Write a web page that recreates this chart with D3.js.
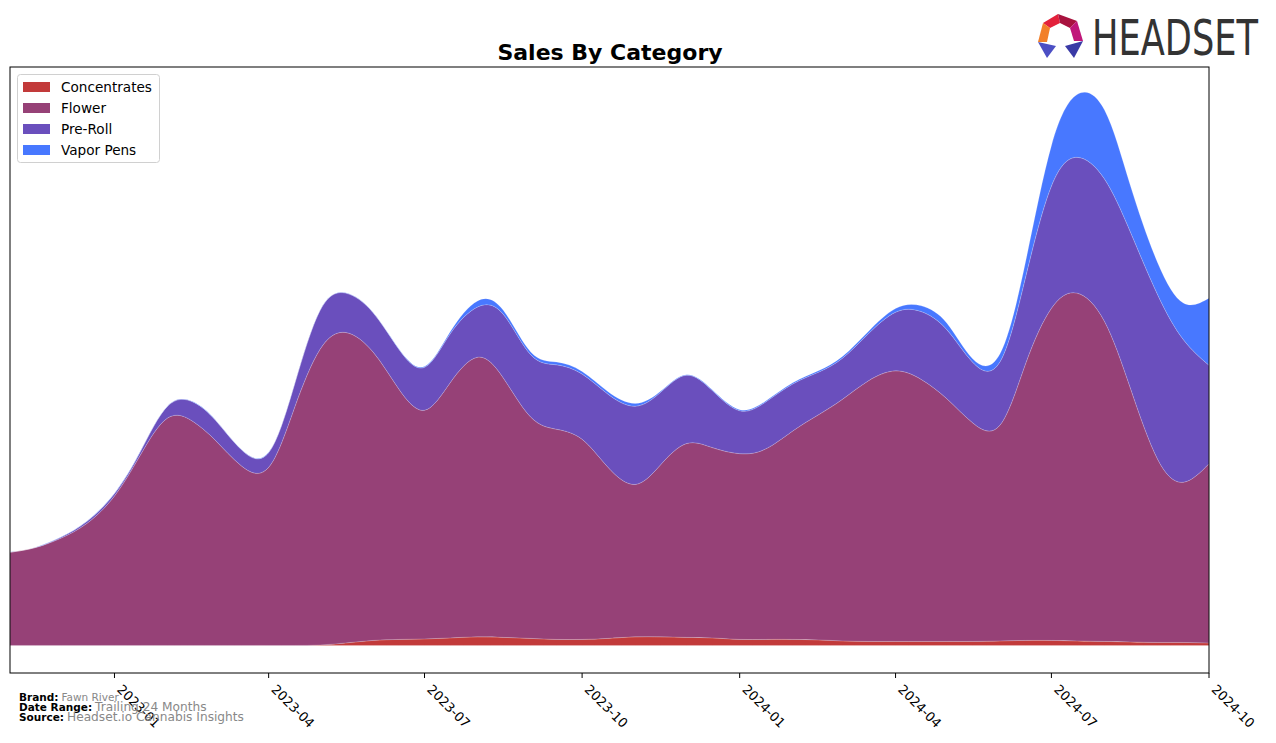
<!DOCTYPE html>
<html>
<head>
<meta charset="utf-8">
<script src="https://cdn.jsdelivr.net/npm/d3@7"></script>
<style>
  html, body { margin: 0; padding: 0; background: #fff; }
  svg { display: block; font-family: "DejaVu Sans", sans-serif; }
</style>
</head>
<body>
<svg id="chart" width="1276" height="743"></svg>
<script>
// ---- data (semi-monthly readings) ----
const dates = [
  "2022-11-01","2022-11-16","2022-12-01","2022-12-16",
  "2023-01-01","2023-01-16","2023-02-01","2023-02-16","2023-03-01","2023-03-16",
  "2023-04-01","2023-04-16","2023-05-01","2023-05-16","2023-06-01","2023-06-16",
  "2023-07-01","2023-07-16","2023-08-01","2023-08-16","2023-09-01","2023-09-16",
  "2023-10-01","2023-10-16","2023-11-01","2023-11-16","2023-12-01","2023-12-16",
  "2024-01-01","2024-01-16","2024-02-01","2024-02-16","2024-03-01","2024-03-16",
  "2024-04-01","2024-04-16","2024-05-01","2024-05-16","2024-06-01","2024-06-16",
  "2024-07-01","2024-07-16","2024-08-01","2024-08-16","2024-09-01","2024-09-16",
  "2024-10-01"
];
const categories = ["Concentrates", "Flower", "Pre-Roll", "Vapor Pens"];
const concentrates = [0,0,0,0,0,0,0,0,0,0,0,0,0.5,2.5,5,6,6.5,7.5,8.5,8,7,6,6,7,8.5,8.5,8,7.5,6,6,6,5.5,4.5,4,4,4,4,4,4.5,5,5,4.5,4,3.5,3,3,2.5];
const flower = [92.3,97,106.5,121,148,188.3,225.3,221.7,203,178,176.4,235,292.8,307.5,285.6,248,226.5,252.8,277,257,219.2,208.2,198.2,169.7,151,170.8,192,188.5,184,188.5,206.5,223,239.3,258,268,259.5,240.3,216.5,213.8,274.5,329,344.5,317,251.9,181.5,158.7,177.5];
const preRoll = [0,0.2,1,2,2.5,3.4,11.7,19.3,20,16,14.6,23,38.4,39,39,39.5,42.5,48.4,49.8,63,61.8,63.8,64.6,72.3,77.5,71.7,67.7,56.5,42.5,46.5,46.5,42.2,40.7,46.5,58.1,67.2,68.4,60,62.7,85.9,121,134.5,141,154.6,163,141.3,97.5];
const vaporPens = [0.2,0.2,0.2,0.3,0.3,0.3,0.3,0.3,0.3,0.3,0.3,0.3,0.3,0.3,0.3,0.5,0.8,2,6,4,2.7,2.7,2.5,2.5,2.7,1,0.5,0.8,1,1,1.2,1.5,1.8,2.3,3.6,5.7,6.5,3.5,8,15.3,40,62.2,68.3,46,31.7,36.3,66.5];
const tickLabels = ["2023-01","2023-04","2023-07","2023-10","2024-01","2024-04","2024-07","2024-10"];
const colors = ["#c23a3a", "#964177", "#6a4fbd", "#4878ff"];

// ---- build table ----
const parse = d3.utcParse("%Y-%m-%d");
const parseM = d3.utcParse("%Y-%m");
const series = [concentrates, flower, preRoll, vaporPens];
const table = dates.map((d, i) => {
  const row = { date: parse(d) };
  categories.forEach((c, k) => row[c] = series[k][i]);
  return row;
});

const svg = d3.select("#chart");
const pLeft = 10, pRight = 1209, pTop = 67, pBottom = 673;

const x = d3.scaleUtc()
  .domain([parse(dates[0]), parse(dates[dates.length - 1])])
  .range([pLeft, pRight]);

const stacked = d3.stack().keys(categories)(table);
const maxTotal = d3.max(stacked[stacked.length - 1], d => d[1]);
const y = d3.scaleLinear()
  .domain([-0.05 * maxTotal, 1.05 * maxTotal])
  .range([pBottom, pTop]);

const area = d3.area()
  .x(d => x(d.data.date))
  .y0(d => y(d[0]))
  .y1(d => y(d[1]))
  .curve(d3.curveNatural);

svg.append("defs").append("clipPath").attr("id", "clip")
  .append("rect").attr("x", pLeft).attr("y", pTop)
  .attr("width", pRight - pLeft).attr("height", pBottom - pTop);

svg.append("g").attr("clip-path", "url(#clip)")
  .selectAll("path")
  .data(stacked)
  .join("path")
  .attr("d", area)
  .attr("fill", (d, i) => colors[i])
  .attr("stroke", "rgba(255,255,255,0.25)")
  .attr("stroke-width", 0.7);

// frame
svg.append("rect")
  .attr("x", pLeft).attr("y", pTop)
  .attr("width", pRight - pLeft).attr("height", pBottom - pTop)
  .attr("fill", "none").attr("stroke", "#000").attr("stroke-width", 1);

// x axis
const tickDates = tickLabels.map(t => parseM(t));
const axis = svg.append("g").attr("transform", `translate(0,${pBottom})`);
axis.selectAll("line.tick")
  .data(tickDates)
  .join("line")
  .attr("x1", d => x(d)).attr("x2", d => x(d))
  .attr("y1", 0).attr("y2", 5)
  .attr("stroke", "#000").attr("stroke-width", 1);
axis.selectAll("text.tl")
  .data(tickDates)
  .join("text")
  .attr("class", "tl")
  .attr("transform", d => `translate(${x(d) + 5},${14}) rotate(45)`)
  .attr("text-anchor", "start")
  .attr("dy", "0.35em")
  .attr("font-size", 13)
  .attr("fill", "#000")
  .text((d, i) => tickLabels[i]);

// title
svg.append("text")
  .attr("x", 610).attr("y", 60)
  .attr("text-anchor", "middle")
  .attr("font-size", 22).attr("font-weight", "bold")
  .text("Sales By Category");

// legend
const lg = svg.append("g");
lg.append("rect")
  .attr("x", 17.5).attr("y", 74.5).attr("width", 142).attr("height", 88)
  .attr("rx", 3).attr("fill", "#fff").attr("stroke", "#d0d0d0");
categories.forEach((c, i) => {
  const cy = 87 + i * 21;
  lg.append("rect").attr("x", 23).attr("y", cy - 5).attr("width", 27).attr("height", 10)
    .attr("fill", colors[i]);
  lg.append("text").attr("x", 61).attr("y", cy + 5)
    .attr("font-size", 13.6).attr("fill", "#000").text(c);
});

// footer
const foot = [
  ["Brand:", "Fawn River", 10.5],
  ["Date Range:", "Trailing 24 Months", 12.2],
  ["Source:", "Headset.io Cannabis Insights", 12.2]
];
foot.forEach((f, i) => {
  const t = svg.append("text").attr("x", 19).attr("y", 701 + i * 10);
  t.append("tspan").attr("font-weight", "bold").attr("font-size", 10.5).attr("fill", "#000").text(f[0]);
  t.append("tspan").attr("dx", 3).attr("font-size", f[2]).attr("fill", "#888").text(f[1]);
});

// logo
const logo = svg.append("g");
const polys = [
  { p: [[1043,23],[1058,14],[1060,23],[1050,28]], c: "#e3213b" },
  { p: [[1058,14],[1077,21],[1070,28],[1060,23]], c: "#a8123e" },
  { p: [[1077,21],[1083,41],[1074,41],[1070,28]], c: "#c0177a" },
  { p: [[1043,23],[1038,42],[1047,42],[1050,28]], c: "#f2802a" },
  { p: [[1038,42],[1056,46],[1047,58]], c: "#4c4fc4" },
  { p: [[1083,41],[1065,46],[1074,58]], c: "#3a3aa6" }
];
polys.forEach(o => logo.append("polygon")
  .attr("points", o.p.map(q => q.join(",")).join(" "))
  .attr("fill", o.c));
logo.append("text")
  .attr("x", 1092).attr("y", 55)
  .attr("font-size", 50)
  .attr("font-family", "'Liberation Sans Narrow', 'DejaVu Sans Condensed', 'Liberation Sans', sans-serif")
  .attr("textLength", 166).attr("lengthAdjust", "spacingAndGlyphs")
  .attr("fill", "#333")
  .text("HEADSET");
</script>
</body>
</html>
